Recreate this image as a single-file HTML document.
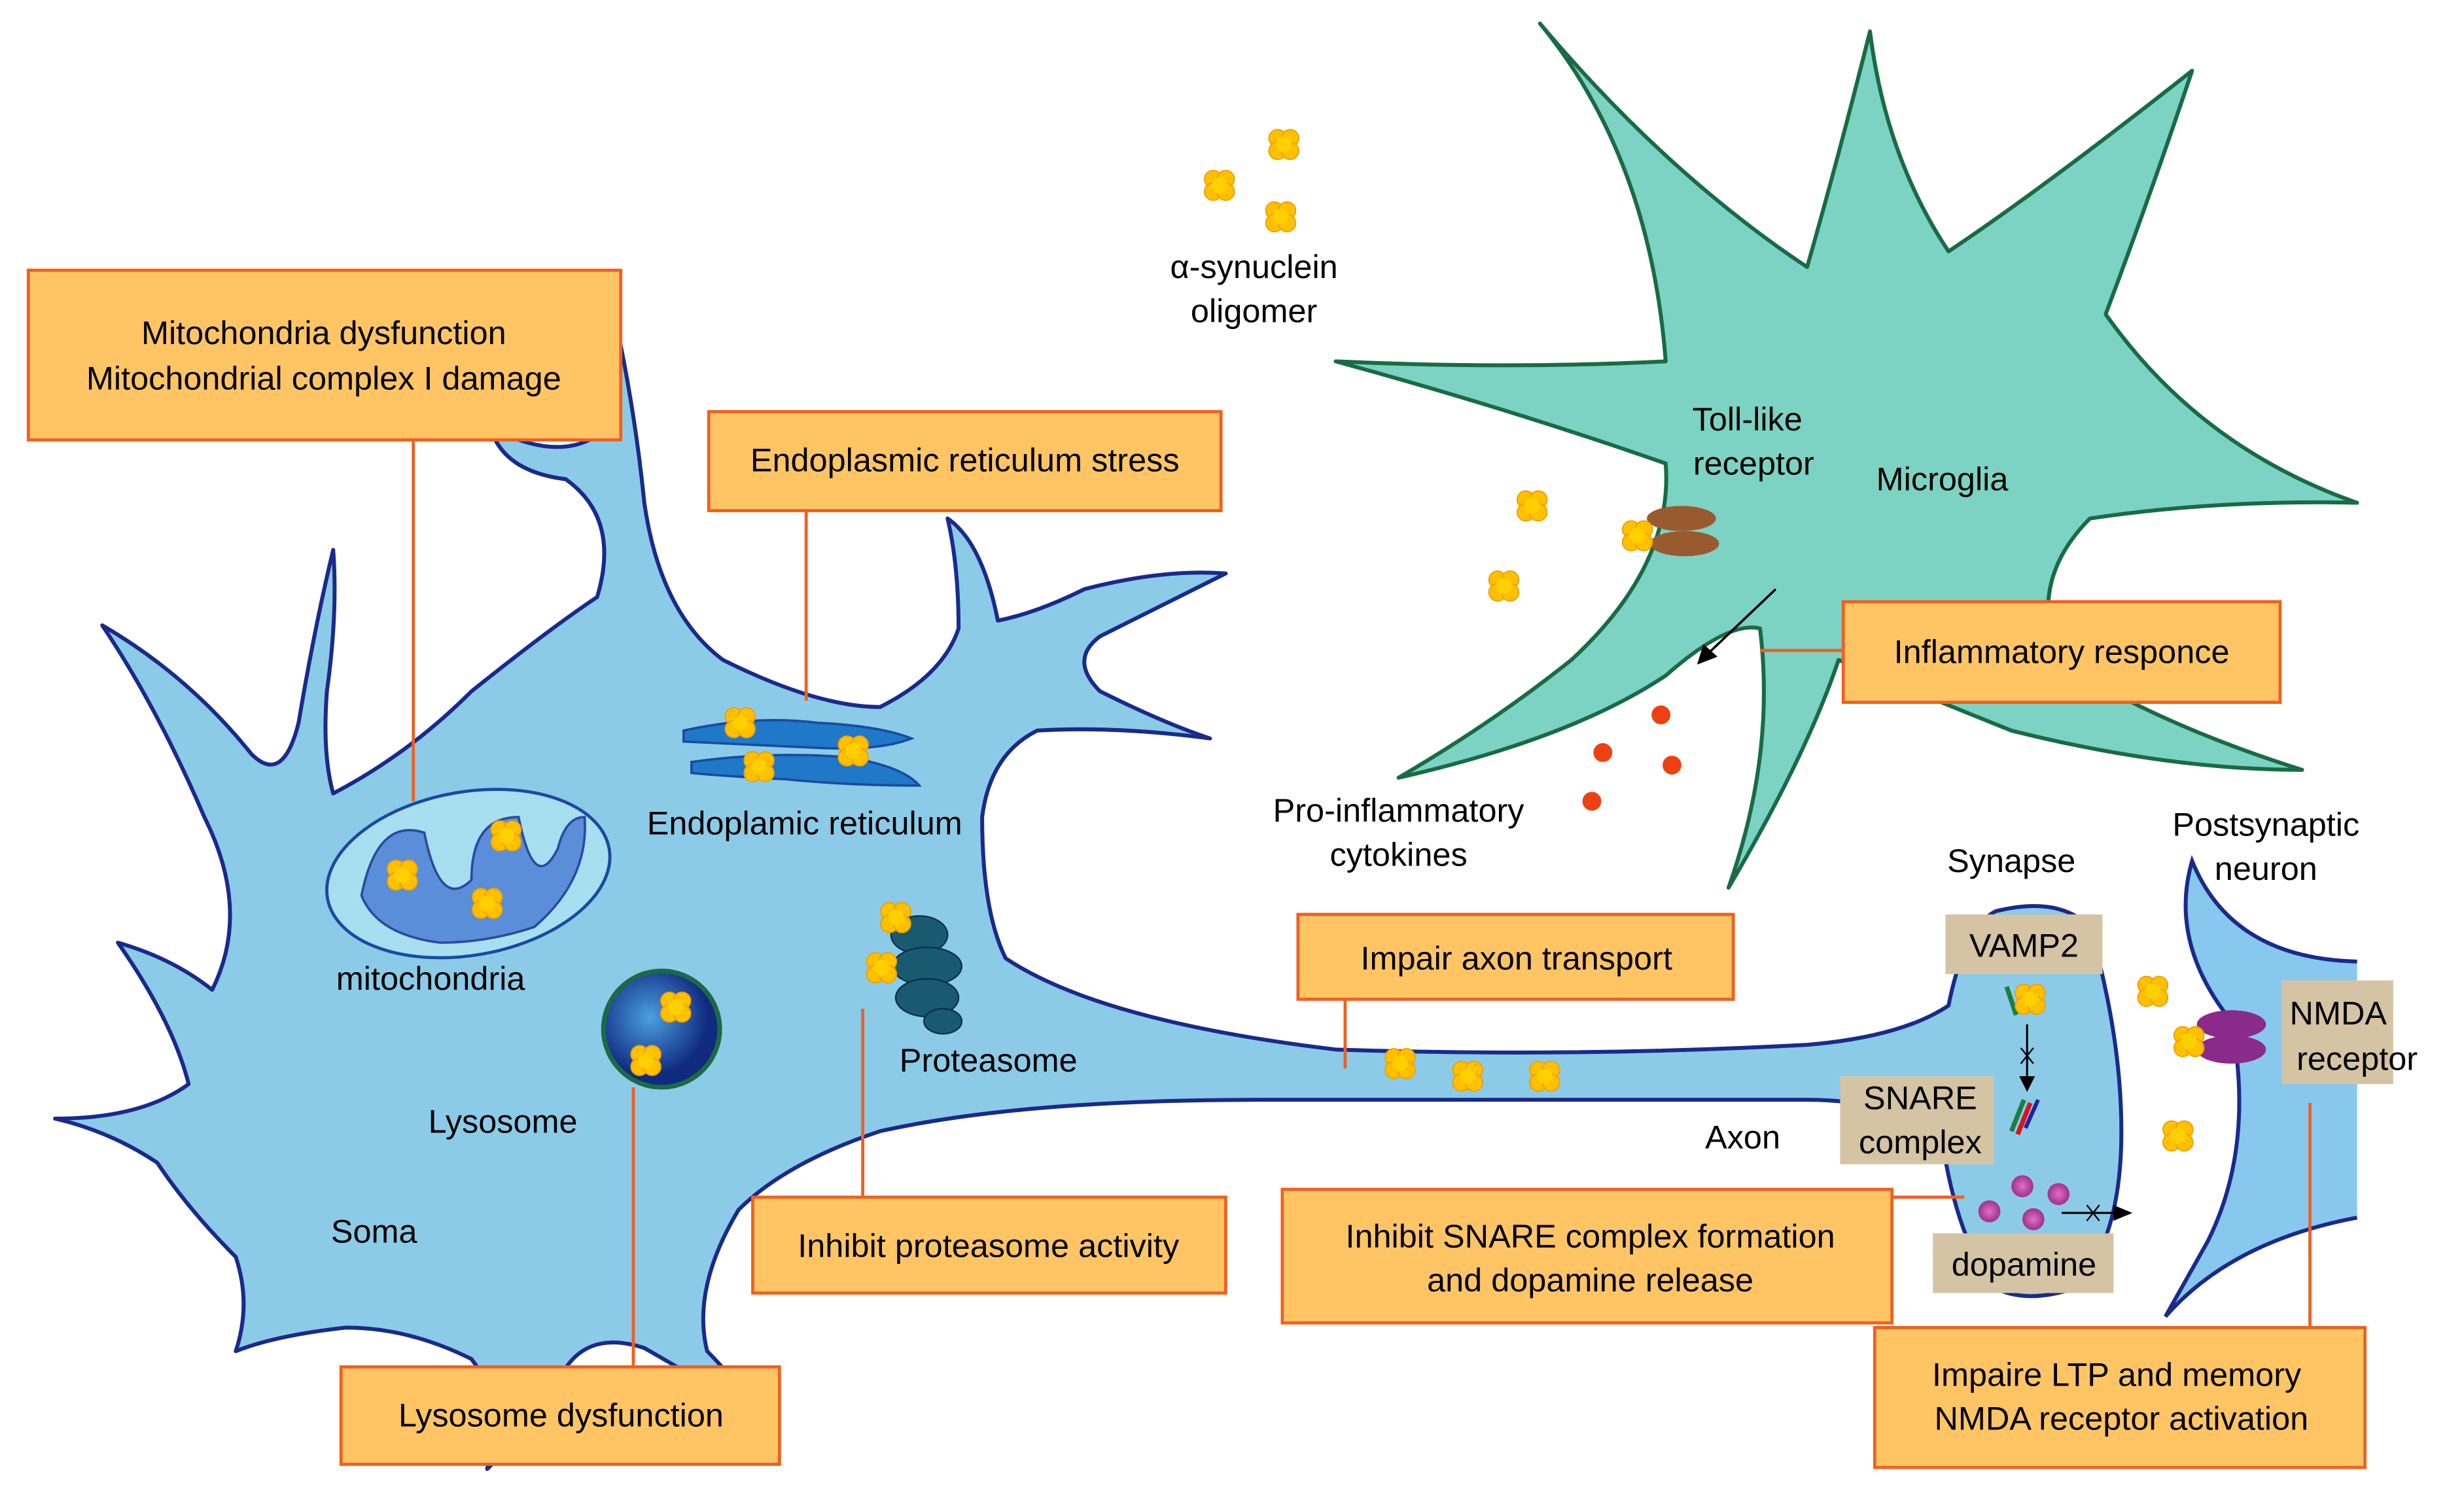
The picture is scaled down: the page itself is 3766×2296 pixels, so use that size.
<!DOCTYPE html>
<html><head><meta charset="utf-8"><style>
html,body{margin:0;padding:0;background:#fff;}
svg{display:block}
text{font-family:"Liberation Sans",Arial,sans-serif;fill:#000;}
</style></head><body>
<svg width="3766" height="2296" viewBox="0 0 1568 956" xmlns="http://www.w3.org/2000/svg">
<defs>
<g id="c"><circle cx="-4" cy="-4" r="5.5" fill="#ffc000" stroke="#f0a000" stroke-width="0.8"/><circle cx="4" cy="-4" r="5.5" fill="#ffc000" stroke="#f0a000" stroke-width="0.8"/><circle cx="-4" cy="4" r="5.5" fill="#ffc000" stroke="#f0a000" stroke-width="0.8"/><circle cx="4" cy="4" r="5.5" fill="#ffc000" stroke="#f0a000" stroke-width="0.8"/><circle cx="0" cy="0" r="5" fill="#ffd000"/></g>
<radialGradient id="dp"><stop offset="0" stop-color="#e070c0"/><stop offset="1" stop-color="#a03090"/></radialGradient>
<radialGradient id="ly" cx="0.4" cy="0.4"><stop offset="0" stop-color="#4aa0e0"/><stop offset="1" stop-color="#102a80"/></radialGradient>
</defs>
<!-- microglia -->
<path d="M980,15 Q1050,100 1060,230 Q960,235 850,230 Q960,260 1060,295 Q1065,360 1000,420 Q950,460 890,495 Q1000,470 1060,430 Q1100,395 1120,400 Q1130,480 1100,565 Q1150,480 1170,420 Q1230,445 1280,465 Q1380,490 1465,490 Q1370,460 1310,420 Q1290,370 1330,330 Q1410,318 1500,320 Q1400,285 1340,200 Q1370,120 1395,45 Q1300,120 1240,160 Q1200,100 1190,20 Q1170,100 1150,170 Q1060,110 980,15 Z" fill="#7dd3c3" stroke="#1a6b45" stroke-width="2.5" stroke-linejoin="round"/>
<!-- postsynaptic -->
<path d="M1500,612 Q1420,610 1395,548 Q1380,600 1420,650 Q1435,730 1405,790 L1378,838 Q1420,790 1500,775 Z" fill="#88c8ee" stroke="none"/>
<path d="M1500,612 Q1420,610 1395,548 Q1380,600 1420,650 Q1435,730 1405,790 L1378,838" fill="none" stroke="#1a2a8a" stroke-width="2.5"/>
<path d="M1500,775 Q1420,790 1378,838" fill="none" stroke="#1a2a8a" stroke-width="2.5"/>
<!-- neuron -->
<path d="M35,712 Q90,712 120,690 Q110,650 75,600 Q110,610 135,630 Q160,580 130,520 Q100,450 65,398 Q120,430 160,480 Q180,500 190,460 Q200,400 212,350 Q215,390 208,440 Q205,480 212,505 Q260,480 300,440 Q350,400 380,380 Q395,330 360,305 Q320,300 312,272 Q350,292 375,280 Q390,250 395,220 Q405,270 410,320 Q420,390 460,420 Q520,450 560,450 Q600,430 610,400 Q610,360 603,330 Q625,345 635,395 Q660,390 690,375 Q740,362 780,365 Q740,385 700,405 Q680,420 700,440 Q740,460 770,470 Q710,462 660,465 Q630,480 625,520 Q625,580 640,610 Q700,650 850,668 Q1000,673 1150,665 Q1210,660 1240,640 Q1250,590 1270,580 Q1310,570 1330,590 Q1350,660 1350,720 Q1350,790 1320,820 Q1290,830 1270,820 Q1245,790 1235,720 Q1200,700 1150,700 Q1000,700 800,700 Q650,700 560,720 Q500,740 470,770 Q440,820 450,860 Q470,880 480,900 Q440,875 410,858 Q370,845 355,880 Q340,905 310,935 Q320,890 300,865 Q260,845 220,845 Q175,850 150,860 Q160,830 150,800 Q120,770 100,740 Q70,720 35,712 Z" fill="#8ccbe8" stroke="#1a2a8a" stroke-width="2.5" stroke-linejoin="round"/>
<!-- mitochondria -->
<ellipse cx="298" cy="556" rx="91" ry="52" fill="#a8dff0" stroke="#1a4aa0" stroke-width="2" transform="rotate(-10 298 556)"/>
<path d="M230,570 Q240,520 270,530 Q280,580 300,560 Q300,520 330,520 Q340,570 355,540 Q360,520 372,520 Q375,560 340,590 Q310,600 280,600 Q240,595 230,570 Z" fill="#5a8ed8" stroke="#2a4aa0" stroke-width="1.5"/>
<!-- ER -->
<path d="M435,465 Q480,455 520,460 Q560,462 580,470 Q560,478 520,476 Q480,474 435,472 Z M440,485 Q490,478 540,482 Q575,488 585,500 Q540,500 500,496 Q460,494 440,492 Z" fill="#1f78c8" stroke="#1a4aa0" stroke-width="1.5"/>
<!-- lysosome -->
<circle cx="421" cy="655" r="37" fill="url(#ly)" stroke="#1a6b45" stroke-width="3"/>
<!-- proteasome -->
<g fill="#1a5a70" stroke="#0a3050" stroke-width="1"><ellipse cx="585" cy="595" rx="18" ry="12"/><ellipse cx="590" cy="615" rx="22" ry="12"/><ellipse cx="590" cy="635" rx="20" ry="12"/><ellipse cx="600" cy="650" rx="12" ry="8"/></g>
<!-- toll-like receptor -->
<ellipse cx="1070" cy="330" rx="22" ry="8" fill="#9a5a30"/><ellipse cx="1072" cy="346" rx="22" ry="8" fill="#9a5a30"/>
<!-- NMDA receptor -->
<ellipse cx="1420" cy="652" rx="22" ry="9" fill="#8a2a8a"/><ellipse cx="1420" cy="668" rx="22" ry="9" fill="#8a2a8a"/>
<!-- cytokines -->
<g fill="#ee4010"><circle cx="1020" cy="479" r="6"/><circle cx="1057" cy="455" r="6"/><circle cx="1064" cy="487" r="6"/><circle cx="1013" cy="510" r="6"/></g>
<!-- dopamine -->
<g fill="url(#dp)"><circle cx="1287" cy="755" r="7"/><circle cx="1310" cy="760" r="7"/><circle cx="1266" cy="771" r="7"/><circle cx="1294" cy="776" r="7"/></g>
<!-- SNARE bars -->
<line x1="1283" y1="646" x2="1277" y2="628" stroke="#1a8040" stroke-width="3"/>
<line x1="1280" y1="720" x2="1288" y2="700" stroke="#1a8040" stroke-width="3"/>
<line x1="1284" y1="722" x2="1292" y2="702" stroke="#e01020" stroke-width="3"/>
<line x1="1289" y1="718" x2="1297" y2="700" stroke="#2020a0" stroke-width="2.5"/>
<!-- arrows -->
<line x1="1290" y1="652" x2="1290" y2="688" stroke="#000" stroke-width="1.3"/><path d="M1285,685 L1295,685 L1290,695 Z"/>
<path d="M1286,667 L1294,677 M1294,667 L1286,677" stroke="#000" stroke-width="1"/>
<line x1="1312" y1="772" x2="1348" y2="772" stroke="#000" stroke-width="1.3"/><path d="M1345,767 L1357,772 L1345,777 Z"/>
<path d="M1328,767 L1336,777 M1336,767 L1328,777" stroke="#000" stroke-width="1"/>
<line x1="1130" y1="375" x2="1088" y2="415" stroke="#000" stroke-width="1.5"/><path d="M1080,423 L1084,410 L1093,418 Z"/>
<!-- clusters -->
<g>
<use href="#c" x="817" y="92"/><use href="#c" x="776" y="118"/><use href="#c" x="815" y="138"/>
<use href="#c" x="975" y="322"/><use href="#c" x="957" y="373"/><use href="#c" x="1042" y="341"/>
<use href="#c" x="471" y="460"/><use href="#c" x="483" y="488"/><use href="#c" x="543" y="478"/>
<use href="#c" x="322" y="532"/><use href="#c" x="256" y="557"/><use href="#c" x="310" y="575"/>
<use href="#c" x="570" y="584"/><use href="#c" x="561" y="616"/><use href="#c" x="430" y="641"/><use href="#c" x="411" y="675"/>
<use href="#c" x="891" y="677"/><use href="#c" x="934" y="685"/><use href="#c" x="983" y="685"/>
<use href="#c" x="1292" y="636"/><use href="#c" x="1370" y="631"/><use href="#c" x="1393" y="663"/><use href="#c" x="1386" y="723"/>
</g>
<!-- connector lines -->
<g stroke="#f06020" stroke-width="2" fill="none">
<line x1="263" y1="280" x2="263" y2="510"/><line x1="513" y1="325" x2="513" y2="446"/>
<line x1="856" y1="636" x2="856" y2="680"/><line x1="549" y1="642" x2="549" y2="762"/>
<line x1="403" y1="692" x2="403" y2="870"/><line x1="1120" y1="414" x2="1173" y2="414"/>
<line x1="1204" y1="762" x2="1250" y2="762"/><line x1="1470" y1="702" x2="1470" y2="845"/>
</g>
<!-- orange boxes -->
<g fill="#ffc565" stroke="#f06020" stroke-width="2">
<rect x="18" y="172" width="377" height="108"/><rect x="451" y="262" width="326" height="63"/>
<rect x="1173" y="383" width="278" height="64"/><rect x="826" y="582" width="277" height="54"/>
<rect x="479" y="762" width="301" height="61"/><rect x="217" y="870" width="279" height="62"/>
<rect x="816" y="757" width="388" height="85"/><rect x="1193" y="845" width="312" height="89"/>
</g>
<g fill="#d4c4a4">
<rect x="1238" y="582" width="100" height="38"/><rect x="1171" y="685" width="98" height="56"/>
<rect x="1230" y="785" width="115" height="38"/><rect x="1452" y="624" width="71" height="66"/>
</g>
<g font-size="21" text-anchor="middle">
<text x="206" y="219">Mitochondria dysfunction</text><text x="206" y="248">Mitochondrial complex I damage</text>
<text x="614" y="300">Endoplasmic reticulum stress</text>
<text x="1312" y="422">Inflammatory responce</text>
<text x="965" y="617">Impair axon transport</text>
<text x="629" y="800">Inhibit proteasome activity</text>
<text x="357" y="908">Lysosome dysfunction</text>
<text x="1012" y="794">Inhibit SNARE complex formation</text><text x="1012" y="822">and dopamine release</text>
<text x="1347" y="882">Impaire LTP and memory</text><text x="1350" y="910">NMDA receptor activation</text>
<text x="1288" y="609">VAMP2</text>
<text x="1222" y="706">SNARE</text><text x="1222" y="734">complex</text>
<text x="1288" y="812">dopamine</text>
<text x="1488" y="652">NMDA</text><text x="1500" y="681">receptor</text>
<text x="798" y="177">α-synuclein</text><text x="798" y="205">oligomer</text>
<text x="1112" y="274">Toll-like</text><text x="1116" y="302">receptor</text>
<text x="1236" y="312">Microglia</text>
<text x="890" y="523">Pro-inflammatory</text><text x="890" y="551">cytokines</text>
<text x="1280" y="555">Synapse</text>
<text x="1442" y="532">Postsynaptic</text><text x="1442" y="560">neuron</text>
<text x="512" y="531">Endoplamic reticulum</text>
<text x="274" y="630">mitochondria</text>
<text x="629" y="682">Proteasome</text>
<text x="320" y="721">Lysosome</text>
<text x="238" y="791">Soma</text>
<text x="1109" y="731">Axon</text>
</g>
</svg>
</body></html>
